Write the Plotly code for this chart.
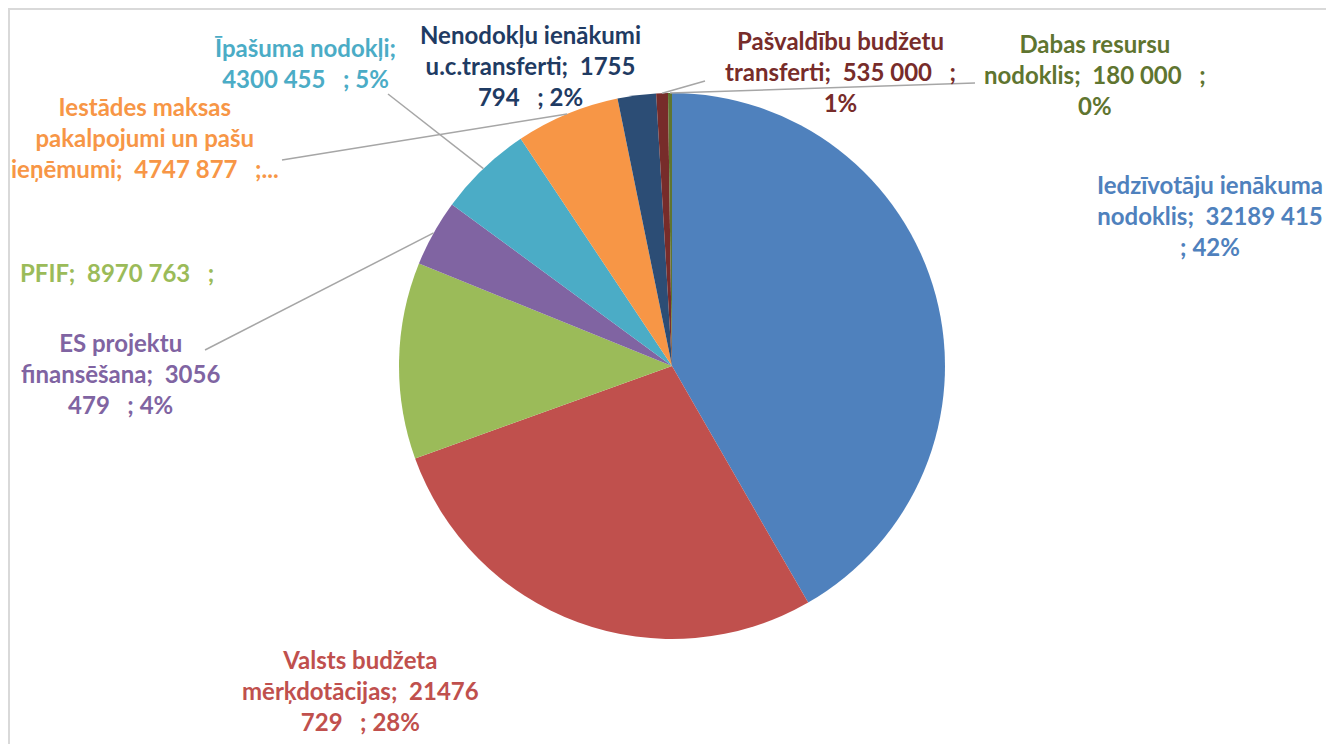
import math
import plotly.graph_objects as go

# ---- data ----
categories = [
    "Iedzīvotāju ienākuma nodoklis",
    "Valsts budžeta mērķdotācijas",
    "PFIF",
    "ES projektu finansēšana",
    "Īpašuma nodokļi",
    "Iestādes maksas pakalpojumi un pašu ieņēmumi",
    "Nenodokļu ienākumi u.c.transferti",
    "Pašvaldību budžetu transferti",
    "Dabas resursu nodoklis",
]
values = [32189415, 21476729, 8970763, 3056479, 4300455, 4747877, 1755794, 535000, 180000]
pct_labels = ["42%", "28%", "12%", "4%", "5%", "6%", "2%", "1%", "0%"]
label_templates = [
    "Iedzīvotāju ienākuma<br>nodoklis;  32189 415<br>; {pct}",
    "Valsts budžeta<br>mērķdotācijas;  21476<br>729   ; {pct}",
    "PFIF;  8970 763   ;",
    "ES projektu<br>finansēšana;  3056<br>479   ; {pct}",
    "Īpašuma nodokļi;<br>4300 455   ; {pct}",
    "Iestādes maksas<br>pakalpojumi un pašu<br>ieņēmumi;  4747 877   ;...",
    "Nenodokļu ienākumi<br>u.c.transferti;  1755<br>794   ; {pct}",
    "Pašvaldību budžetu<br>transferti;  535 000   ;<br>{pct}",
    "Dabas resursu<br>nodoklis;  180 000   ;<br>{pct}",
]

# ---- styles ----
OFF = 8                      # page body margin
W, H = 1334 - OFF, 744 - OFF  # figure size
slice_colors = ["#4F81BD", "#C0504D", "#9BBB59", "#8064A2", "#4BACC6",
                "#F79646", "#2C4D75", "#772C2A", "#5F7530"]
text_colors = ["#4F81BD", "#C0504D", "#9BBB59", "#8064A2", "#4BACC6",
               "#F79646", "#1F3B63", "#772C2A", "#5F7530"]
# label centers (page pixels) and alignment
label_pos = [(1210, 215, "center"), (360, 690, "center"), (18, 272, "left"),
             (120, 374, "center"), (305, 63, "center"), (145, 138, "center"),
             (530, 65, "center"), (840, 72, "center"), (1095, 74, "center")]
# leader line start points (page pixels) near labels; None = no line
leader_start = [None, None, None, (205, 350), (388, 94), (282, 160),
                None, (705, 81), (975, 83)]

# pie placement in page pixels: center and radius
pie_cx, pie_cy, pie_r = 672, 366, 273
dom_x = [(pie_cx - pie_r - OFF) / W, (pie_cx + pie_r - OFF) / W]
dom_y = [1 - (pie_cy + pie_r - OFF) / H, 1 - (pie_cy - pie_r - OFF) / H]

fig = go.Figure(go.Pie(
    labels=categories,
    values=values,
    sort=False,
    direction="clockwise",
    rotation=0,
    marker=dict(colors=slice_colors, line=dict(width=0)),
    textinfo="none",
    hoverinfo="label+value+percent",
    showlegend=False,
    domain=dict(x=dom_x, y=dom_y),
))

total = sum(values)

def px2paper(x, y):
    return (x - OFF) / W, 1 - (y - OFF) / H

annotations = []
shapes = []
cum = 0
for i, v in enumerate(values):
    mid = (cum + v / 2) / total * 2 * math.pi
    cum += v
    lx, ly, al = label_pos[i]
    px, py = px2paper(lx, ly)
    annotations.append(dict(
        x=px, y=py, xref="paper", yref="paper",
        xanchor="left" if al == "left" else "center", yanchor="middle",
        align=al, showarrow=False,
        text="<b>" + label_templates[i].format(pct=pct_labels[i]) + "</b>",
        font=dict(family="Lato, Carlito, Calibri, sans-serif", size=24,
                  color=text_colors[i]),
    ))
    if leader_start[i] is not None:
        ex = pie_cx + pie_r * math.sin(mid)
        ey = pie_cy - pie_r * math.cos(mid)
        x0, y0 = px2paper(*leader_start[i])
        x1, y1 = px2paper(ex, ey)
        shapes.append(dict(type="line", xref="paper", yref="paper",
                           x0=x0, y0=y0, x1=x1, y1=y1,
                           line=dict(color="#A6A6A6", width=1.5)))

# chart-area border (left and top edges visible)
shapes.append(dict(type="path", xref="paper", yref="paper",
                   path=f"M {1/W} 0 L {1/W} {1-1/H} L 1 {1-1/H}",
                   line=dict(color="#D9D9D9", width=2)))

fig.update_layout(
    width=W, height=H,
    margin=dict(l=0, r=0, t=0, b=0),
    paper_bgcolor="white",
    plot_bgcolor="white",
    annotations=annotations,
    shapes=shapes,
)

fig.write_html("out.html")
